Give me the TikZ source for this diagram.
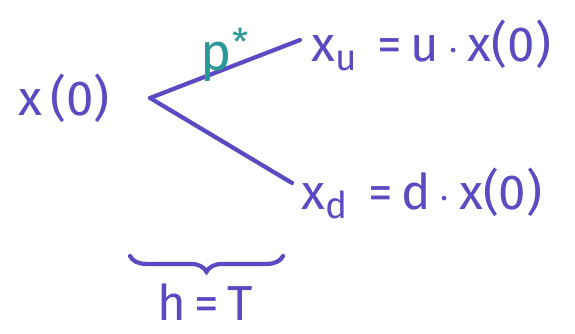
\documentclass[tikz,border=0pt]{standalone}
\usepackage{fontspec}
\setmainfont{Fira Sans}
\usepackage{xcolor}
\usetikzlibrary{decorations.pathreplacing}
\definecolor{Ink}{HTML}{5A4BC2}
\definecolor{Teal}{HTML}{2A9896}
\newcommand{\lowidx}[1]{\raisebox{-0.35ex}{\fontsize{21}{24}\selectfont #1}}

\begin{document}
\begin{tikzpicture}[every node/.style={font=\fontsize{28}{32}\selectfont,text=Ink},branch/.style={line width=2.4pt,draw=Ink,line cap=round},prob/.style={font=\fontsize{30}{34}\selectfont,text=Teal}]
\fill[white] (0,0) rectangle (11.5,6.68);

\node (x0) at (1.28,4.72) {x\,(0)};
\coordinate (root) at (3.0,4.72);
\node[anchor=west] (xu) at (6.1,5.78) {x\lowidx{u} \,=\,u\,$\cdot$\,x(0)};
\node[anchor=west] (xd) at (5.9,2.82) {x\lowidx{d} \,=\,d\,$\cdot$\,x(0)};
\coordinate (up) at (6.0,5.88);
\coordinate (dn) at (5.84,3.02);
\draw[branch] (root)--(up);
\draw[branch] (root)--(dn);
\node[prob] (p) at (4.5,5.58) {p\textsuperscript{*}};
\coordinate (bl) at (2.6,1.56);
\coordinate (br) at (5.66,1.56);
\draw[branch,decorate,decoration={brace,mirror,amplitude=9pt}] (bl)--(br);
\node (h) at (4.1,0.64) {h\,=\,T};

\end{tikzpicture}
\end{document}
